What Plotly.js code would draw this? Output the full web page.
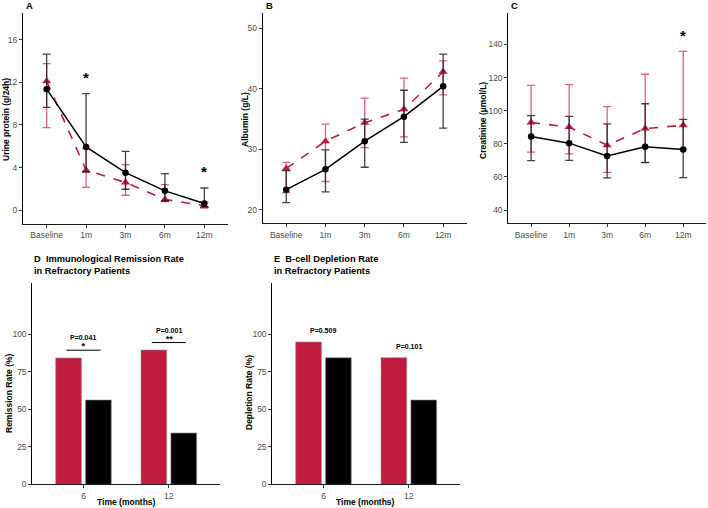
<!DOCTYPE html>
<html>
<head>
<meta charset="utf-8">
<script src="https://cdn.plot.ly/plotly-3.0.1.min.js"></script>
<style>
  html, body { margin: 0; padding: 0; background: #fff; }
  #chart { width: 708px; height: 508px; }
</style>
</head>
<body>
<div id="chart"></div>
<script>
// Follow-up time points
const timeLabels = ['Baseline', '1m', '3m', '6m', '12m'];

// A: urine protein (g/24h) — centre, upper and lower bar ends
const protBlack   = [11.35, 5.93, 3.52, 1.81, 0.62];
const protBlackHi = [14.65, 10.94, 5.52, 3.42, 2.08];
const protBlackLo = [9.65, 3.58, 1.96, 0.85, 0.30];
const protRed     = [12.10, 3.75, 2.60, 1.00, 0.42];
const protRedHi   = [13.75, 5.78, 4.28, 2.40, 0.78];
const protRedLo   = [7.75, 2.14, 1.40, 0.80, 0.20];

// B: albumin (g/L)
const albBlack   = [23.35, 26.70, 31.35, 35.40, 40.40];
const albBlackHi = [26.50, 29.90, 35.00, 39.75, 45.70];
const albBlackLo = [21.20, 23.00, 27.05, 31.15, 33.50];
const albRed     = [26.85, 31.35, 34.40, 36.60, 42.80];
const albRedHi   = [27.85, 34.15, 38.45, 41.75, 44.60];
const albRedLo   = [22.85, 24.70, 30.30, 32.05, 39.00];

// C: creatinine (µmol/L)
const creBlack   = [84.4, 80.4, 72.6, 78.2, 76.6];
const creBlackHi = [97.0, 96.6, 92.0, 104.2, 94.8];
const creBlackLo = [69.8, 70.0, 59.4, 68.6, 59.6];
const creRed     = [92.9, 90.1, 79.1, 89.2, 91.2];
const creRedHi   = [115.3, 115.8, 102.4, 122.0, 135.8];
const creRedLo   = [75.0, 73.9, 62.8, 68.8, 77.0];

// D/E: rates in refractory patients at 6 and 12 months
const monthLabels = ['6', '12'];
const remRed   = [84.2, 89.5];
const remBlack = [56.2, 34.2];
const depRed   = [94.9, 84.4];
const depBlack = [84.4, 56.2];

// P values and significance marks
const remP     = ['P=0.041', 'P=0.001'];
const remStars = ['*', '**'];
const remBarY  = [89.4, 94.5];
const depP     = ['P=0.509', 'P=0.101'];
const depPY    = [102.4, 92.2];

// axis tick values
const protTicks = [0, 4, 8, 12, 16];
const albTicks  = [20, 30, 40, 50];
const creTicks  = [40, 60, 80, 100, 120, 140];
const rateTicks = [0, 25, 50, 75, 100];

const RED = '#bf1b3d';
const RED_ERR = 'rgba(205,45,85,0.75)';
const BLK = '#000000';
const BLK_ERR = 'rgba(25,25,25,0.82)';
const FONT = 'Liberation Sans, Arial, sans-serif';

function errs(center, hi, lo) {
  return {
    plus: hi.map((v, i) => v - center[i]),
    minus: center.map((v, i) => v - lo[i])
  };
}

function lineTraces(xa, ya, black, bHi, bLo, red, rHi, rLo) {
  const eb = errs(black, bHi, bLo);
  const er = errs(red, rHi, rLo);
  return [
    {
      type: 'scatter', mode: 'lines+markers', x: timeLabels, y: red,
      xaxis: xa, yaxis: ya, showlegend: false,
      line: { color: RED, width: 1.6, dash: 'dash' },
      marker: { symbol: 'triangle-up', size: 8, color: RED },
      error_y: { type: 'data', symmetric: false, array: er.plus, arrayminus: er.minus,
                 color: RED_ERR, thickness: 1.3, width: 4 }
    },
    {
      type: 'scatter', mode: 'lines+markers', x: timeLabels, y: black,
      xaxis: xa, yaxis: ya, showlegend: false,
      line: { color: BLK, width: 1.5 },
      marker: { symbol: 'circle', size: 6.5, color: BLK },
      error_y: { type: 'data', symmetric: false, array: eb.plus, arrayminus: eb.minus,
                 color: BLK_ERR, thickness: 1.3, width: 4 }
    }
  ];
}

function barTraces(xa, ya, red, black) {
  return [
    { type: 'bar', x: monthLabels, y: red, xaxis: xa, yaxis: ya, showlegend: false,
      marker: { color: RED, line: { color: '#8a8a8a', width: 0.6 } } },
    { type: 'bar', x: monthLabels, y: black, xaxis: xa, yaxis: ya, showlegend: false,
      marker: { color: BLK, line: { color: '#8a8a8a', width: 0.6 } } }
  ];
}

const data = [
  ...lineTraces('x', 'y', protBlack, protBlackHi, protBlackLo, protRed, protRedHi, protRedLo),
  ...lineTraces('x2', 'y2', albBlack, albBlackHi, albBlackLo, albRed, albRedHi, albRedLo),
  ...lineTraces('x3', 'y3', creBlack, creBlackHi, creBlackLo, creRed, creRedHi, creRedLo),
  ...barTraces('x4', 'y4', remRed, remBlack),
  ...barTraces('x5', 'y5', depRed, depBlack)
];

const W = 708, H = 508;
const px = v => v / W;
const py = v => 1 - v / H;

function xAxis(l, r, yAnchor, cats, rng) {
  return {
    domain: [px(l), px(r)], anchor: yAnchor, type: 'category',
    categoryorder: 'array', categoryarray: cats,
    range: rng, showline: true, linecolor: '#1a1a1a', linewidth: 1,
    ticks: 'outside', ticklen: 3, tickcolor: '#333', tickwidth: 1,
    showgrid: false, zeroline: false, fixedrange: true,
    tickfont: { family: FONT, size: 8.5, color: '#4d4d4d' }
  };
}
function yAxis(t, b, xAnchor, rng, vals) {
  return {
    domain: [py(b), py(t)], anchor: xAnchor, range: rng,
    tickmode: 'array', tickvals: vals,
    showline: true, linecolor: '#000', linewidth: 1,
    ticks: 'outside', ticklen: 3, tickcolor: '#333', tickwidth: 1,
    showgrid: false, zeroline: false, fixedrange: true,
    tickfont: { family: FONT, size: 8.5, color: '#4d4d4d' }
  };
}

const ann = [];
function txt(text, x, y, xref, yref, size, opts) {
  ann.push(Object.assign({
    text: text, x: x, y: y, xref: xref, yref: yref, showarrow: false,
    xanchor: 'center', yanchor: 'middle',
    font: { family: FONT, size: size, color: '#000' }
  }, opts || {}));
}

// panel letters
txt('<b>A</b>', px(24), py(6), 'paper', 'paper', 9.5, { xanchor: 'left' });
txt('<b>B</b>', px(264), py(6), 'paper', 'paper', 9.5, { xanchor: 'left' });
txt('<b>C</b>', px(509), py(6), 'paper', 'paper', 9.5, { xanchor: 'left' });

// y-axis titles
txt('<b>Urine protein (g/24h)</b>', px(6), py(120), 'paper', 'paper', 8.5, { textangle: -90 });
txt('<b>Albumin (g/L)</b>', px(245), py(120), 'paper', 'paper', 8.5, { textangle: -90 });
txt('<b>Creatinine (µmol/L)</b>', px(483), py(120), 'paper', 'paper', 8.5, { textangle: -90 });
txt('<b>Remission Rate (%)</b>', px(9), py(393), 'paper', 'paper', 8.5, { textangle: -90 });
txt('<b>Depletion Rate (%)</b>', px(249), py(393), 'paper', 'paper', 8.5, { textangle: -90 });

// bottom x titles
txt('<b>Time (months)</b>', px(126), py(502), 'paper', 'paper', 8.5);
txt('<b>Time (months)</b>', px(366), py(502), 'paper', 'paper', 8.5);

// bar panel titles
txt('<b>D  Immunological Remission Rate<br>in Refractory Patients</b>', px(32), py(265), 'paper', 'paper', 9.3,
    { xanchor: 'left', align: 'left' });
txt('<b>E  B-cell Depletion Rate<br>in Refractory Patients</b>', px(272), py(265), 'paper', 'paper', 9.3,
    { xanchor: 'left', align: 'left' });

// significance stars on line panels
txt('<b>*</b>', '1m', 12.5, 'x', 'y', 15, { yshift: -1 });
txt('<b>*</b>', '12m', 3.7, 'x', 'y', 15, { yshift: -1 });
txt('<b>*</b>', '12m', 146, 'x3', 'y3', 15, { yshift: -1 });

// P values (with significance stars underneath) and bracket lines in bar panels
const shapes = [];
monthLabels.forEach((m, i) => {
  txt('<b><span style="font-size:7px">' + remP[i] + '</span><br>' +
      '<span style="font-size:9px">' + remStars[i] + '</span></b>',
      i, remBarY[i] + 5, 'x4', 'y4', 7);
  shapes.push({ type: 'line', xref: 'x4', yref: 'y4', x0: i - 0.2, x1: i + 0.2,
                y0: remBarY[i], y1: remBarY[i], line: { color: '#000', width: 1 } });
  txt('<b>' + depP[i] + '</b>', i, depPY[i], 'x5', 'y5', 7);
});

const lineRange = [-0.6, 4.6];
const barRange = [-0.6, 1.6];

const layout = {
  width: W, height: H,
  margin: { l: 0, r: 0, t: 0, b: 0 },
  paper_bgcolor: '#fff', plot_bgcolor: '#fff',
  font: { family: FONT },
  showlegend: false,
  barmode: 'group', bargap: 0.3, bargroupgap: 0.14,
  xaxis:  xAxis(23, 228, 'y', timeLabels, lineRange),
  yaxis:  yAxis(13, 224, 'x', [-1.3, 18.5], protTicks),
  xaxis2: xAxis(262.7, 466.7, 'y2', timeLabels, lineRange),
  yaxis2: yAxis(13, 223.3, 'x2', [17.8, 52.5], albTicks),
  xaxis3: xAxis(508.3, 706, 'y3', timeLabels, lineRange),
  yaxis3: yAxis(13, 223.3, 'x3', [32, 159], creTicks),
  xaxis4: xAxis(32.3, 220, 'y4', monthLabels, barRange),
  yaxis4: yAxis(282.7, 484.3, 'x4', [0, 134.4], rateTicks),
  xaxis5: xAxis(272.3, 460, 'y5', monthLabels, barRange),
  yaxis5: yAxis(282.7, 484.3, 'x5', [0, 134.4], rateTicks),
  annotations: ann,
  shapes: shapes
};

Plotly.newPlot('chart', data, layout, { staticPlot: true, displayModeBar: false });
</script>
</body>
</html>
